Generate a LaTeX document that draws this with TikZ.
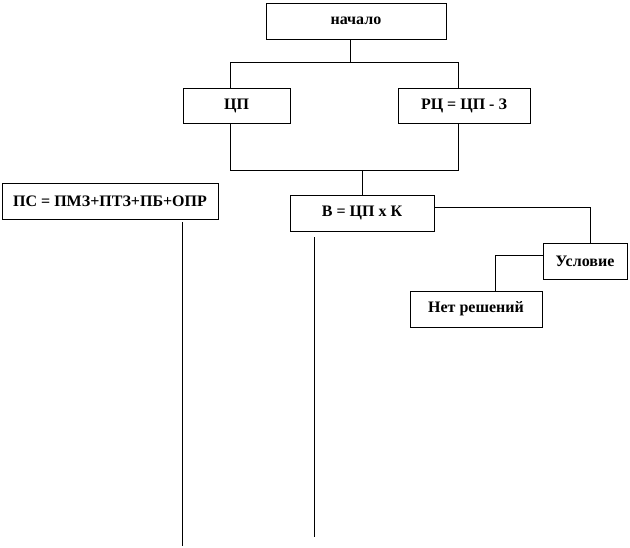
\documentclass[tikz,border=0pt]{standalone}
\usepackage{fontspec}
\setmainfont{Liberation Serif}

\tikzset{
  kasten/.style={draw, line width=0.75pt, inner sep=0pt, font=\bfseries\fontsize{12}{14}\selectfont},
  linie/.style={line width=0.75pt}
}

\begin{document}
\begin{tikzpicture}[x=0.75pt, y=-0.75pt]
			\useasboundingbox (0,0) rectangle (630,547); % Rahmen wie Vorlage

			% Kaesten zeichnen
			\node[kasten, minimum width=135pt, minimum height=27pt] (start) at (356,21) {начало};
			\node[kasten, minimum width=80.25pt, minimum height=26.25pt] (cp) at (236.5,105.5) {ЦП};
			\node[kasten, minimum width=99pt, minimum height=26.25pt] (rc) at (464,105.5) {РЦ = ЦП - З};
			\node[kasten, minimum width=162pt, minimum height=27pt] (ps) at (110,201) {ПС = ПМЗ+ПТЗ+ПБ+ОПР};
			\node[kasten, minimum width=108pt, minimum height=27pt] (v) at (362,213) {В = ЦП х К};
			\node[kasten, minimum width=63pt, minimum height=27pt] (usl) at (585,261) {Условие};
			\node[kasten, minimum width=99pt, minimum height=27pt] (net) at (476,309) {Нет решений};

			% Knickpunkte
			\coordinate (gabel) at (350,62);
			\coordinate (a1) at (230,62);
			\coordinate (a2) at (458,62);
			\coordinate (b1) at (230,170);
			\coordinate (b2) at (458,170);
			\coordinate (c1) at (590,207);
			\coordinate (d1) at (495,255);

			% Verbindungen
			\draw[linie] (start.south -| gabel) -- (gabel); % von start nach unten
			\draw[linie] (a1 |- cp.north) -- (a1) -- (a2) -- (a2 |- rc.north); % Verzweigung oben
			\draw[linie] (b1 |- cp.south) -- (b1) -- (b2) -- (b2 |- rc.south); % Zusammenfuehrung
			\draw[linie] (v.north |- b1) -- (v.north); % nach B
			\draw[linie] (v.east |- c1) -- (c1) -- (c1 |- usl.north); % nach Bedingung
			\draw[linie] (usl.west |- d1) -- (d1) -- (d1 |- net.north); % nach keine Loesung

			% lose Linien unten
			\coordinate (e1) at (182,222);
			\coordinate (e2) at (182,546);
			\coordinate (f1) at (314,237);
			\coordinate (f2) at (314,537);
			\draw[linie] (e1) -- (e2);
			\draw[linie] (f1) -- (f2);
		\end{tikzpicture}
\end{document}
